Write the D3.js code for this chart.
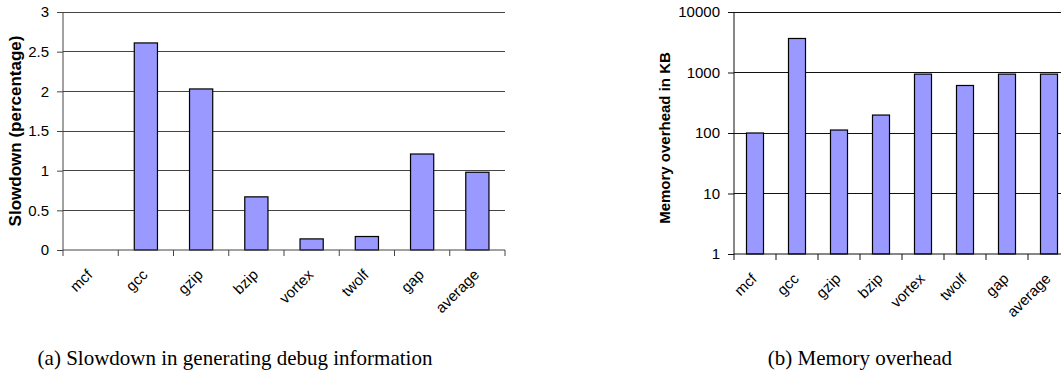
<!DOCTYPE html>
<html>
<head>
<meta charset="utf-8">
<script src="https://cdn.jsdelivr.net/npm/d3@7"></script>
<style>
  html, body { margin: 0; padding: 0; background: #fff; }
  svg { display: block; }
  .tick text { font-family: "Liberation Sans", Arial, sans-serif; }
</style>
</head>
<body>
<svg id="fig" width="1061" height="373"></svg>
<script>
// Benchmarks shown in both panels
const benchmarks = ["mcf", "gcc", "gzip", "bzip", "vortex", "twolf", "gap", "average"];

// (a) Slowdown in generating debug information, in percent
const slowdown = [0, 2.61, 2.03, 0.67, 0.14, 0.17, 1.21, 0.98];
const slowdownTicks = [0, 0.5, 1, 1.5, 2, 2.5, 3];

// (b) Memory overhead in KB (log scale)
const memoryKB = [100, 3650, 112, 198, 940, 610, 940, 940];
const memoryTicks = [1, 10, 100, 1000, 10000];

const svg = d3.select("#fig");
const sans = "'Liberation Sans', Arial, sans-serif";
const serif = "'Liberation Serif', 'Times New Roman', serif";
const barFill = "#9999ff";

function drawPanel(opt) {
  const g = svg.append("g");
  const x = d3.scaleBand()
    .domain(benchmarks)
    .range([opt.left, opt.left + opt.step * benchmarks.length])
    .paddingInner(opt.padInner)
    .paddingOuter(opt.padInner / 2);
  const y = opt.yScale;
  const [y0, y1] = y.range();

  // horizontal gridlines
  g.append("g").selectAll("line")
    .data(opt.ticks.slice(1))
    .join("line")
    .attr("x1", opt.left).attr("x2", opt.right)
    .attr("y1", d => y(d)).attr("y2", d => y(d))
    .attr("stroke", opt.gridColor).attr("stroke-width", 1)
    .attr("shape-rendering", "crispEdges");

  // bars
  g.append("g").selectAll("rect")
    .data(benchmarks.map((b, i) => ({ b, v: opt.values[i] })))
    .join("rect")
    .attr("x", d => x(d.b))
    .attr("width", x.bandwidth())
    .attr("y", d => y(Math.max(d.v, opt.base)))
    .attr("height", d => y0 - y(Math.max(d.v, opt.base)))
    .attr("fill", barFill)
    .attr("stroke", "#000").attr("stroke-width", 1.2);

  // y axis
  const yAxis = d3.axisLeft(y).tickValues(opt.ticks).tickSize(6).tickPadding(8)
    .tickFormat(opt.format);
  const ya = g.append("g").attr("transform", `translate(${opt.left},0)`).call(yAxis);
  ya.select(".domain").attr("stroke", opt.axisColor).attr("d", `M0,${y0}V${y1}`);
  ya.selectAll(".tick line").attr("stroke", opt.axisColor);
  ya.selectAll(".tick text").attr("font-size", 15).attr("fill", "#000");

  // x axis: ticks at category boundaries
  const bounds = d3.range(benchmarks.length + 1).map(i => opt.left + i * x.step());
  g.append("line")
    .attr("x1", opt.left).attr("x2", opt.left + x.step() * benchmarks.length)
    .attr("y1", y0).attr("y2", y0)
    .attr("stroke", opt.axisColor).attr("stroke-width", 1.2);
  g.append("g").selectAll("line")
    .data(bounds)
    .join("line")
    .attr("x1", d => d).attr("x2", d => d)
    .attr("y1", y0).attr("y2", y0 + 6)
    .attr("stroke", opt.axisColor);

  // rotated category labels, anchored at their end below each bar
  const labels = g.append("g").selectAll("g")
    .data(benchmarks)
    .join("g")
    .attr("transform", d => `translate(${x(d) + x.bandwidth() / 2 - 1},${y0 + 22})`);
  labels.append("text")
    .attr("transform", "rotate(-45)")
    .attr("text-anchor", "end")
    .attr("dy", "0.35em")
    .attr("font-family", sans)
    .attr("font-size", 15)
    .text(d => d);

  // axis title
  g.append("text")
    .attr("transform", `translate(${opt.titleX},${opt.titleY}) rotate(-90)`)
    .attr("text-anchor", "middle")
    .attr("dy", "0.35em")
    .attr("font-family", sans)
    .attr("font-weight", "bold")
    .attr("font-size", opt.titleSize)
    .text(opt.title);

  // caption
  g.append("text")
    .attr("x", opt.captionX).attr("y", 365)
    .attr("text-anchor", "middle")
    .attr("font-family", serif)
    .attr("font-size", 21)
    .text(opt.caption);
}

drawPanel({
  values: slowdown,
  ticks: slowdownTicks,
  base: 0,
  yScale: d3.scaleLinear().domain([0, 3]).range([250, 12]),
  format: d3.format("~g"),
  left: 63, right: 505, step: 55.25, padInner: 0.58,
  gridColor: "#444", axisColor: "#444",
  title: "Slowdown (percentage)", titleX: 15, titleY: 131, titleSize: 17,
  caption: "(a) Slowdown in generating debug information", captionX: 235
});

drawPanel({
  values: memoryKB,
  ticks: memoryTicks,
  base: 1,
  yScale: d3.scaleLog().domain([1, 10000]).range([254, 12]),
  format: d3.format("d"),
  left: 734, right: 1061, step: 42, padInner: 0.595,
  gridColor: "#111", axisColor: "#111",
  title: "Memory overhead in KB", titleX: 665, titleY: 138, titleSize: 15,
  caption: "(b) Memory overhead", captionX: 860
});
</script>
</body>
</html>
